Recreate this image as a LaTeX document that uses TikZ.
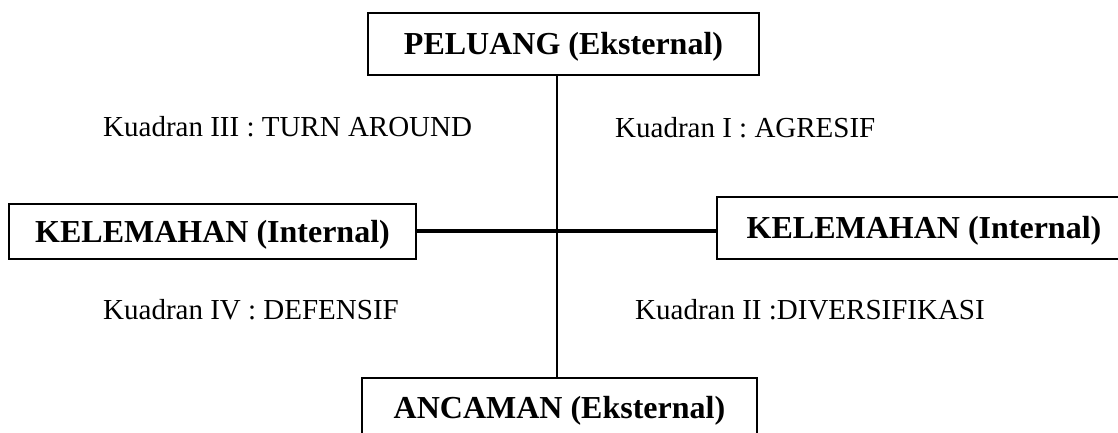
\documentclass[tikz,border=0pt]{standalone}
\usepackage{fontspec}
\setmainfont{Liberation Serif}
\begin{document}
\begin{tikzpicture}[x=1pt,y=-1pt,
  box/.style={draw,line width=1.3pt,inner sep=0pt,text height=21.6pt,text depth=0pt,
    font=\fontsize{32}{38}\selectfont\bfseries},
  quad/.style={inner sep=0pt,anchor=base west,font=\fontsize{29}{35}\selectfont}]
\useasboundingbox (0,0) rectangle (1118,432);
\clip (0,0) rectangle (1118,432);
\node[box,minimum width=391pt,minimum height=62pt] (top) at (563.5,44) {PELUANG (Eksternal)};
\node[box,minimum width=395pt,minimum height=60pt] (bot) at (559.5,408) {ANCAMAN (Eksternal)};
\node[box,minimum width=407pt,minimum height=55pt] (lft) at (212.5,231.5) {KELEMAHAN (Internal)};
\node[box,minimum width=414pt,minimum height=62pt] (rgt) at (924,228) {KELEMAHAN (Internal)};
\coordinate (c) at (557,231);
\node[quad] (q3) at (103,136) {Kuadran III : TURN AROUND};
\node[quad] (q1) at (615,137) {Kuadran I : AGRESIF};
\node[quad] (q4) at (103,319) {Kuadran IV : DEFENSIF};
\node[quad] (q2) at (635,319) {Kuadran II :DIVERSIFIKASI};
\draw[line width=1.5pt] (top.south -| c) -- (bot.north -| c);
\draw[line width=3.3pt] (lft.east |- c) -- (rgt.west |- c);
\end{tikzpicture}
\end{document}
